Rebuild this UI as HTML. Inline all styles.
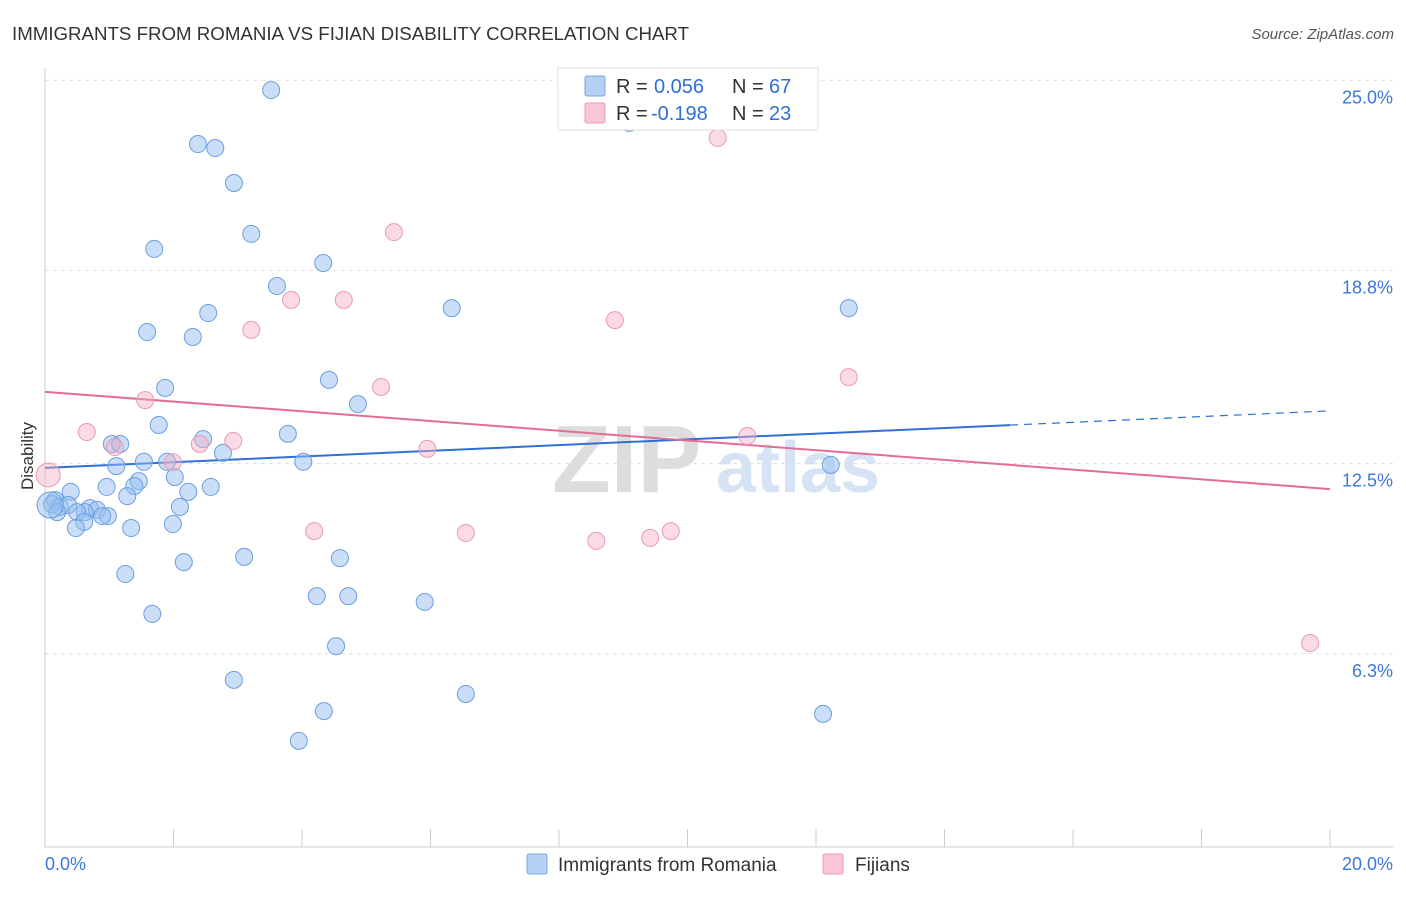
<!DOCTYPE html>
<html><head><meta charset="utf-8"><style>
body{margin:0;background:#fff;font-family:"Liberation Sans",sans-serif;}
svg text{font-family:"Liberation Sans",sans-serif;}
</style></head><body>
<svg id="chart" width="1406" height="892" viewBox="0 0 1406 892">
<text x="12" y="40" font-size="18.7" fill="#333">IMMIGRANTS FROM ROMANIA VS FIJIAN DISABILITY CORRELATION CHART</text>
<text x="1394" y="39" font-size="15" fill="#555" font-style="italic" text-anchor="end">Source: ZipAtlas.com</text>
<g>
<text x="552" y="492" font-size="96" fill="#ddd" font-family="Liberation Serif" font-weight="bold">ZIP</text>
<text x="716" y="492" font-size="72" fill="#d5e3f5" font-weight="bold">atlas</text>
</g>
<g id="grid"></g>
<g id="axes"></g>
<g id="trend"></g>
<g id="points"></g>
<g>
<rect x="558" y="68" width="260" height="62" fill="#fff" stroke="#ddd"/>
<rect x="585" y="76" width="20" height="20" fill="#b5d0f5" stroke="#7aa8e0" rx="2"/>
<text x="616" y="93" font-size="20" fill="#333">R =</text>
<text x="654" y="93" font-size="20" fill="#2f6fd6">0.056</text>
<text x="732" y="93" font-size="20" fill="#333">N =</text>
<text x="769" y="93" font-size="20" fill="#2f6fd6">67</text>
<rect x="585" y="103" width="20" height="20" fill="#f9c6d6" stroke="#e89ab5" rx="2"/>
<text x="616" y="120" font-size="20" fill="#333">R =</text>
<text x="651" y="120" font-size="20" fill="#2f6fd6">-0.198</text>
<text x="732" y="120" font-size="20" fill="#333">N =</text>
<text x="769" y="120" font-size="20" fill="#2f6fd6">23</text>
</g>
<g>
<rect x="527" y="854" width="20" height="20" fill="#b5d0f5" stroke="#7aa8e0" rx="2"/>
<text x="558" y="871" font-size="19" fill="#333">Immigrants from Romania</text>
<rect x="823" y="854" width="20" height="20" fill="#f9c6d6" stroke="#e89ab5" rx="2"/>
<text x="855" y="871" font-size="19" fill="#333">Fijians</text>
</g>
<text x="33" y="456" font-size="17" fill="#333" text-anchor="middle" transform="rotate(-90 33 456)">Disability</text>
</svg>
<script>
const yTicks=[25,18.8,12.5,6.3];
const yTickLabels=["25.0%","18.8%","12.5%","6.3%"];
const xTickLabels=["0.0%","20.0%"];
const blueX=[3.52,2.38,2.65,2.94,3.21,1.70,4.33,3.61,6.33,12.51,2.54,1.59,2.30,4.42,1.87,4.87,1.77,3.78,2.46,1.04,1.17,2.77,1.54,1.90,4.02,12.23,1.11,2.02,1.46,0.96,1.39,2.58,2.23,0.40,1.28,0.16,0.11,0.23,0.36,0.19,0.70,0.81,0.62,0.50,0.98,0.89,0.61,1.99,2.10,0.48,1.34,3.10,4.59,2.16,1.25,4.23,4.72,5.91,1.67,4.53,2.94,6.55,4.34,12.11,3.95,9.09,0.08];
const blueY=[24.68,22.92,22.79,21.65,19.99,19.50,19.04,18.29,17.57,17.57,17.41,16.79,16.63,15.23,14.97,14.44,13.76,13.47,13.30,13.14,13.14,12.85,12.56,12.56,12.56,12.46,12.42,12.06,11.93,11.74,11.77,11.74,11.58,11.58,11.44,11.31,11.18,11.09,11.15,10.92,11.05,10.99,10.92,10.92,10.79,10.79,10.60,10.53,11.09,10.40,10.40,9.46,9.42,9.29,8.90,8.18,8.18,7.99,7.60,6.55,5.45,4.99,4.43,4.34,3.46,23.61,11.15];
const pinkX=[10.47,5.43,3.83,4.65,8.87,3.21,12.51,5.23,1.56,0.65,2.93,2.41,10.93,5.95,1.99,1.09,0.05,4.19,6.55,8.58,9.42,9.74,19.69];
const pinkY=[23.12,20.05,17.84,17.84,17.18,16.86,15.32,15.00,14.57,13.53,13.24,13.14,13.40,12.98,12.55,13.04,12.13,10.30,10.24,9.98,10.08,10.30,6.65];
const blueTrend=[12.36,14.22], blueSolidEnd=15.02;
const pinkTrend=[14.84,11.67];
const X=v=>45+v*64.25, Y=v=>847-v*30.67;
const NS="http://www.w3.org/2000/svg";
function mk(parent,tag,attrs){const e=document.createElementNS(NS,tag);for(const k in attrs)e.setAttribute(k,attrs[k]);document.getElementById(parent).appendChild(e);return e;}
yTicks.forEach((t,i)=>{
 const l=mk("grid","line",{x1:45,x2:1393,y1:Y(t),y2:Y(t),stroke:"#ddd","stroke-dasharray":"4,4"});
 
 
 const tx=mk("grid","text",{x:1393,y:Y(t)+23,"font-size":18,fill:"#3b78d8","text-anchor":"end"});
 tx.textContent=yTickLabels[i];
 
 
});
let a=mk("axes","line",{x1:45,x2:45,y1:68,y2:847,stroke:"#ccc"});


a=mk("axes","line",{x1:45,x2:1393,y1:847,y2:847,stroke:"#ccc"});


for(let i=1;i<=10;i++){
 const t=mk("axes","line",{x1:X(i*2),x2:X(i*2),y1:829,y2:847,stroke:"#ccc"});
 
 
}
[[0,"start",45],[20,"end",1393]].forEach((d,i)=>{
 const t=mk("axes","text",{x:d[2],y:870,"font-size":18,fill:"#3b78d8","text-anchor":d[1]});
 t.textContent=xTickLabels[i];
 
 
});
const bl=(x)=>blueTrend[0]+(blueTrend[1]-blueTrend[0])*x/20;
let tl=mk("trend","line",{x1:X(0),y1:Y(bl(0)),x2:X(blueSolidEnd),y2:Y(bl(blueSolidEnd)),stroke:"#2f6fd6","stroke-width":2});


tl=mk("trend","line",{x1:X(blueSolidEnd),y1:Y(bl(blueSolidEnd)),x2:X(20),y2:Y(bl(20)),stroke:"#2f6fd6","stroke-width":1.2,"stroke-dasharray":"8,6"});


tl=mk("trend","line",{x1:X(0),y1:Y(pinkTrend[0]),x2:X(20),y2:Y(pinkTrend[1]),stroke:"#e26d96","stroke-width":2});


blueX.forEach((x,i)=>{
 const c=mk("points","circle",{cx:X(x),cy:Y(blueY[i]),r:(i==blueX.length-1?13:8.5),fill:"rgba(150,190,240,0.5)",stroke:"#6b9fe0","stroke-width":1});
 
 
});
pinkX.forEach((x,i)=>{
 const c=mk("points","circle",{cx:X(x),cy:Y(pinkY[i]),r:(i==16?12:8.5),fill:"rgba(245,175,198,0.45)",stroke:"#e89ab5","stroke-width":1});
 
 
});
</script>
</body></html>
